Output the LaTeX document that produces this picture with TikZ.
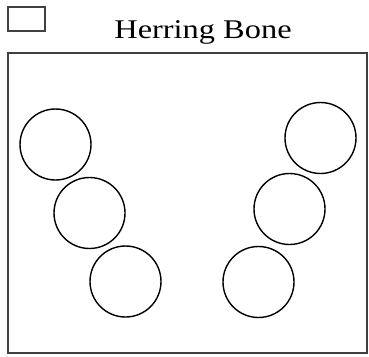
\documentclass[tikz,border=0pt]{standalone}
\usepackage{fontspec}
\setmainfont{Liberation Serif}

\begin{document}
\begin{tikzpicture}[x=1pt, y=-1pt]
  \tikzset{
    frame/.style={draw=black!75, line width=1.5pt},
    disc/.style={circle, draw, line width=1.4pt, minimum size=71pt, inner sep=0pt}
  }
  \useasboundingbox (0,0) rectangle (369,356);
  \draw[frame] (8,7) rectangle (45,31);
  \node[anchor=base, font=\fontsize{27}{30}\selectfont, xscale=1.2] (title) at (203,38) {Herring Bone};
  \draw[frame] (8,53) rectangle (367,353);
  % left row
  \node[disc] (l1) at (55.5,144.5) {};
  \node[disc] (l2) at (89.5,213) {};
  \node[disc] (l3) at (125.5,281.5) {};
  % right row
  \node[disc] (r1) at (320.5,138) {};
  \node[disc] (r2) at (289.5,209) {};
  \node[disc] (r3) at (258.5,282) {};
\end{tikzpicture}
\end{document}
